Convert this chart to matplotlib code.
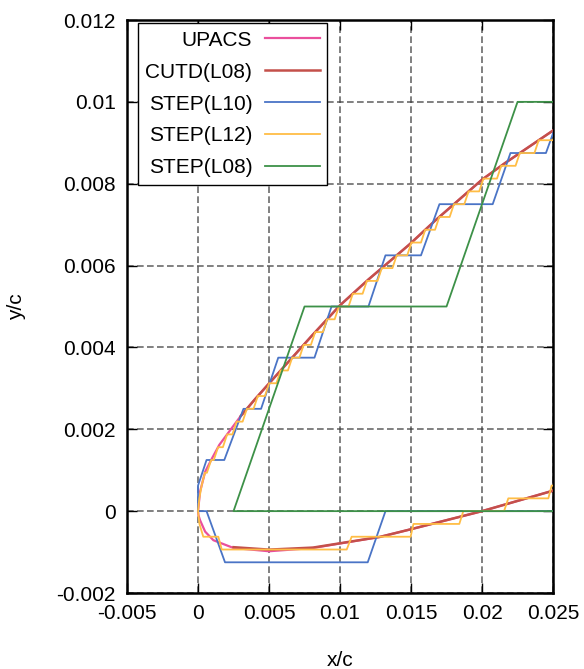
import numpy as np
import matplotlib
matplotlib.use("Agg")
import matplotlib.pyplot as plt
from matplotlib.ticker import FixedLocator, FuncFormatter

plt.rcParams['font.family'] = ['Liberation Sans', 'DejaVu Sans']

# ---- surface (UPACS) ----
upper_x = [0, 0.00014, 0.0005, 0.001, 0.0015, 0.0021, 0.003, 0.004, 0.005, 0.0065,
           0.008, 0.01, 0.012, 0.0149, 0.0167, 0.02, 0.0216, 0.025]
upper_y = [0, 0.00047, 0.00096, 0.0013, 0.00162, 0.0019, 0.00232, 0.00273, 0.00312, 0.0037,
           0.00428, 0.00503, 0.00566, 0.00652, 0.0071, 0.0081, 0.0085, 0.0093]
lower_x = [0, 0.00003, 0.00014, 0.0005, 0.00108, 0.0025, 0.005, 0.0081, 0.0128, 0.0149, 0.02, 0.025]
lower_y = [0, -0.0001, -0.00022, -0.0005, -0.00071, -0.0009, -0.00098, -0.0009, -0.00063, -0.00045, 0.0, 0.0005]

# ---- CUTD(L08) (cut data, starts away from the leading edge) ----
cutd_upper_x = [0.003, 0.004, 0.005, 0.0065, 0.008, 0.01, 0.012, 0.0149, 0.0167, 0.02, 0.0216, 0.025]
cutd_upper_y = [0.00232, 0.00273, 0.00312, 0.0037, 0.00428, 0.00503, 0.00566, 0.00652, 0.0071, 0.0081, 0.0085, 0.0093]
cutd_lower_x = [0.0025, 0.005, 0.0081, 0.0128, 0.0149, 0.02, 0.025]
cutd_lower_y = [-0.00088, -0.00094, -0.00089, -0.00063, -0.00045, 0.0, 0.0005]

# ---- STEP(L10) vertices ----
l10_x = [0.025, 0.0132, 0.01195, 0.0019, 0.0006, 0.0, 0.0, 0.0006, 0.00185, 0.0032, 0.00444,
         0.00565, 0.0082, 0.0094, 0.012, 0.0132, 0.0157, 0.0170, 0.02075, 0.022, 0.0245, 0.0258]
l10_y = [0.0, 0.0, -0.00125, -0.00125, 0.0, 0.0, 0.000625, 0.00125, 0.00125, 0.0025, 0.0025,
         0.00375, 0.00375, 0.005, 0.005, 0.00625, 0.00625, 0.0075, 0.0075, 0.00875, 0.00875, 0.01]

# ---- STEP(L12): step levels with start / end of each flat part ----
l12_lower_level = [0.0, -0.0003125, -0.000625, -0.0009375, -0.000625, -0.0003125, 0.0, 0.0003125, 0.000625]
l12_lower_start = [0.0, 0.0001, 0.00037, 0.00167, 0.01082, 0.01517, 0.01868, 0.02185, 0.0249]
l12_lower_end   = [0.0, 0.0001, 0.00143, 0.01047, 0.01497, 0.0184, 0.02155, 0.02467, 0.0256]
l12_upper_level = [0.0, 0.0003125, 0.000625, 0.0009375, 0.00125, 0.0015625, 0.001875, 0.0021875,
                   0.0025, 0.0028125, 0.003125, 0.0034375, 0.00375, 0.0040625, 0.004375, 0.0046875,
                   0.005, 0.0053125, 0.005625, 0.0059375, 0.00625, 0.0065625, 0.006875, 0.0071875,
                   0.0075, 0.0078125, 0.008125, 0.0084375, 0.00875, 0.0090625, 0.009375]
l12_upper_start = [0.0, 0.000093, 0.000254, 0.000483, 0.000926, 0.00141, 0.00205, 0.00272,
                   0.00344, 0.00421, 0.00501, 0.00582, 0.00663, 0.00744, 0.00825, 0.00909,
                   0.00992, 0.0109, 0.01189, 0.01294, 0.01399, 0.01503, 0.0160, 0.01699,
                   0.01802, 0.01905, 0.0201, 0.02135, 0.02266, 0.02399, 0.0253]
l12_upper_end   = [0.0, 0.000093, 0.000254, 0.000626, 0.00111, 0.00175, 0.00242, 0.00314,
                   0.00391, 0.00471, 0.00552, 0.00633, 0.00714, 0.00795, 0.00879, 0.00962,
                   0.0106, 0.01159, 0.01264, 0.01369, 0.01473, 0.0157, 0.01669, 0.01772,
                   0.01875, 0.0198, 0.02105, 0.02236, 0.02369, 0.0250, 0.0256]

# ---- STEP(L08) vertices ----
l08_x = [0.026, 0.0025, 0.0075, 0.0175, 0.0225, 0.026]
l08_y = [0.0, 0.0, 0.005, 0.005, 0.01, 0.01]

x_ticks = [-0.005, 0, 0.005, 0.01, 0.015, 0.02, 0.025]
y_ticks = [-0.002, 0, 0.002, 0.004, 0.006, 0.008, 0.01, 0.012]


def steps(levels, starts, ends):
    xs, ys = [], []
    for lv, s, e in zip(levels, starts, ends):
        xs += [s, e]
        ys += [lv, lv]
    return xs, ys

lx, ly = steps(l12_lower_level, l12_lower_start, l12_lower_end)
ux, uy = steps(l12_upper_level, l12_upper_start, l12_upper_end)
l12_x = lx[::-1] + ux
l12_y = ly[::-1] + uy

fig = plt.figure(figsize=(5.84, 6.69), dpi=100)
ax = fig.add_axes([0.2175, 0.1136, 0.7295, 0.8565])

c_up = '#ea4f9c'
c_cu = '#c4504a'
c_l10 = '#4a74c6'
c_l12 = '#ffbd45'
c_l08 = '#3d9148'

FS = 15

ax.plot(lower_x[::-1] + upper_x[1:], lower_y[::-1] + upper_y[1:], color=c_up, lw=1.6,
        label='UPACS', zorder=3)
ax.plot(cutd_upper_x, cutd_upper_y, color=c_cu, lw=1.8, label='CUTD(L08)', zorder=4)
ax.plot(cutd_lower_x, cutd_lower_y, color=c_cu, lw=1.8, zorder=4)
ax.plot(l10_x, l10_y, color=c_l10, lw=1.3, label='STEP(L10)', zorder=5)
ax.plot(l12_x, l12_y, color=c_l12, lw=1.3, label='STEP(L12)', zorder=6)
ax.plot(l08_x, l08_y, color=c_l08, lw=1.3, label='STEP(L08)', zorder=7)

ax.set_xlim(-0.005, 0.025)
ax.set_ylim(-0.002, 0.012)
ax.xaxis.set_major_locator(FixedLocator(x_ticks))
ax.yaxis.set_major_locator(FixedLocator(y_ticks))
fmt = FuncFormatter(lambda v, p: '%g' % round(v, 6))
ax.xaxis.set_major_formatter(fmt)
ax.yaxis.set_major_formatter(fmt)
ax.tick_params(direction='in', length=7, width=1, top=True, right=True,
               labelsize=FS, pad=8, colors='black')
ax.grid(True, color='#3a3a3a', linestyle=(0, (4, 2)), linewidth=1.2, alpha=0.75, zorder=1)
ax.set_axisbelow(True)
for sp in ax.spines.values():
    sp.set_linewidth(1.8)
    sp.set_color('black')

ax.set_xlabel('x/c', fontsize=FS, labelpad=20)
ax.set_ylabel('y/c', fontsize=FS, labelpad=22)

leg = ax.legend(loc='upper left', bbox_to_anchor=(0.026, 0.994), markerfirst=False,
                fontsize=FS, frameon=True, fancybox=False, edgecolor='black',
                handlelength=2.65, labelspacing=0.62, borderpad=0.35,
                handletextpad=0.6, borderaxespad=0.0)
leg.get_frame().set_linewidth(1.0)
leg.get_frame().set_alpha(1)
for t in leg.get_texts():
    t.set_ha('right')
leg.set_zorder(10)

fig.savefig('out.png', dpi=100)
